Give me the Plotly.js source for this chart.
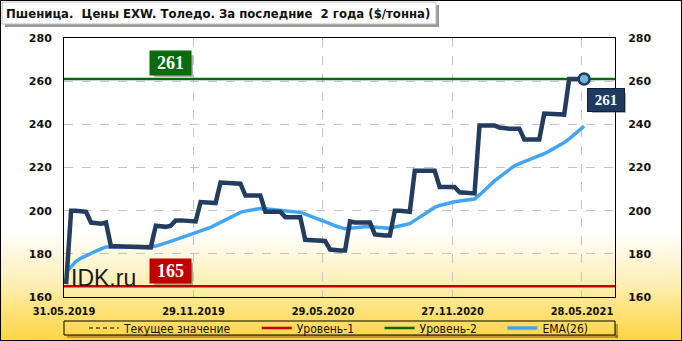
<!DOCTYPE html>
<html>
<head>
<meta charset="utf-8">
<script src="https://cdn.plot.ly/plotly-3.0.1.min.js"></script>
<style>
  html, body { margin: 0; padding: 0; background: #fff; }
  #wrap { position: relative; width: 682px; height: 341px;
    background: linear-gradient(to bottom, #ffffff 0%, #ffffff 68%, #fff7dc 75%, #ffeeb0 84%, #ffe27a 91%, #ffd443 100%); }
  #chart { width: 682px; height: 341px; }
  #frame { position: absolute; left: 0; top: 0; width: 680px; height: 339px; border: 1px solid #000; pointer-events: none; }
</style>
</head>
<body>
<div id="wrap"><div id="chart"></div><div id="frame"></div></div>
<script>
// ---- data ----
const dates = [
  '2019-06-03','2019-06-10','2019-06-17','2019-06-24','2019-07-01','2019-07-08','2019-07-15','2019-07-22','2019-07-29',
  '2019-08-05','2019-08-12','2019-08-19','2019-08-26','2019-09-02','2019-09-09','2019-09-16','2019-09-23','2019-09-30',
  '2019-10-07','2019-10-14','2019-10-21','2019-10-28','2019-11-04','2019-11-11','2019-11-18','2019-11-25',
  '2019-12-02','2019-12-09','2019-12-16','2019-12-23','2019-12-30',
  '2020-01-06','2020-01-13','2020-01-20','2020-01-27','2020-02-03','2020-02-10','2020-02-17','2020-02-24',
  '2020-03-02','2020-03-09','2020-03-16','2020-03-23','2020-03-30','2020-04-06','2020-04-13','2020-04-20','2020-04-27',
  '2020-05-04','2020-05-11','2020-05-18','2020-05-25','2020-06-01','2020-06-08','2020-06-15','2020-06-22','2020-06-29',
  '2020-07-06','2020-07-13','2020-07-20','2020-07-27','2020-08-03','2020-08-10','2020-08-17','2020-08-24','2020-08-31',
  '2020-09-07','2020-09-14','2020-09-21','2020-09-28','2020-10-05','2020-10-12','2020-10-19','2020-10-26',
  '2020-11-02','2020-11-09','2020-11-16','2020-11-23','2020-11-30','2020-12-07','2020-12-14','2020-12-21','2020-12-28',
  '2021-01-04','2021-01-11','2021-01-18','2021-01-25','2021-02-01','2021-02-08','2021-02-15','2021-02-22',
  '2021-03-01','2021-03-08','2021-03-15','2021-03-22','2021-03-29','2021-04-05','2021-04-12','2021-04-19','2021-04-26',
  '2021-05-03','2021-05-10','2021-05-17','2021-05-24','2021-05-31'
];
const price = [
  166, 200, 200, 200, 199.5, 194.5, 194, 194, 194.5,
  183.5, 183.5, 183.5, 183.5, 183.5, 183.5, 183.5, 183.5, 183,
  193, 192.5, 192.5, 193, 195.5, 195.5, 195.5, 195,
  195, 204, 204, 203.5, 203.5,
  213, 213, 213, 213, 212.5, 207, 207, 206.5,
  207, 199.5, 199.5, 199, 199.5, 197, 197, 197, 197,
  186.5, 186.5, 186.5, 186.5, 186, 182, 181.5, 181.5, 181.5,
  195, 194.5, 194.5, 194.5, 194.5, 189, 188.5, 188.5, 188.5,
  200, 200, 199.5, 199.5, 218.5, 218.5, 218.5, 218.5,
  218.5, 211, 211, 211, 211, 208.5, 208.5, 208.5, 208,
  239.5, 239.5, 239.5, 239.5, 238.5, 238, 238, 238,
  238, 233, 233, 233, 233, 245, 245, 244.5, 244.5,
  244.5, 261, 261, 261, 261
];
const ema = [
  171.5, 174, 176.5, 178, 179.2, 180.3, 181.3, 182.3, 183.2,
  183.2, 183.2, 183.1, 183.1, 183.0, 183.0, 183.0, 183.0, 183.0,
  183.6, 184.2, 185, 185.8, 186.6, 187.4, 188.1, 188.9,
  189.6, 190.5, 191.4, 192.3, 193.4,
  194.6, 195.8, 197, 198.2, 199.2, 199.8, 200.3, 200.8,
  201, 200.9, 200.7, 200.4, 200.2, 200, 199.8, 199.5, 199.2,
  198.4, 197.6, 196.8, 196, 195, 194, 193, 192.2, 191.6,
  191.8, 192.1, 192.4, 192.6, 192.5, 192.3, 192, 191.7, 191.8,
  192.4, 193, 193.5, 194, 195.5, 197, 198.5, 200.3,
  201.5, 202.4, 203.1, 203.6, 204.1, 204.5, 204.8, 205.1, 205.4,
  207.3, 209.6, 211.9, 213.8, 215.5, 217.3, 219.3, 220.8,
  221.8, 222.7, 223.6, 224.4, 225.2, 226.4, 227.6, 228.8, 230.2,
  231.6, 233.3, 235.2, 237.2, 239.2
];
const level1 = 165;
const level2 = 261;
const currentValue = 261;
const xTickVals = ['2019-05-31','2019-11-29','2020-05-29','2020-11-27','2021-05-28'];
const xTickText = ['31.05.2019','29.11.2019','29.05.2020','27.11.2020','28.05.2021'];
const yTickVals = [160, 180, 200, 220, 240, 260, 280];
const xRange = ['2019-05-31', '2021-07-13 10:00'];
const yRange = [160, 280];
const titleText = 'Пшеница.\u00a0 Цены EXW. Толедо. За последние\u00a0 2 года ($/тонна)';

// ---- geometry helpers (pixel -> paper) ----
const M = {l: 64, r: 67, t: 38, b: 44, autoexpand: false};
const PW = 682 - M.l - M.r, PH = 341 - M.t - M.b;
const P = x => (x - M.l) / PW;
const Q = y => (341 - M.b - y) / PH;

const last = dates.length - 1;
const NB = '\u00a0';
const pad = NB.repeat(6);

const traces = [
  {x: xRange, y: [currentValue, currentValue], type: 'scatter', mode: 'lines', name: 'Текущее значение' + pad,
   line: {color: '#000', width: 1, dash: '4px,3px'}, legendrank: 1, hoverinfo: 'skip'},
  {x: xRange, y: [level2, level2], type: 'scatter', mode: 'lines', name: 'Уровень-2' + pad,
   line: {color: '#0a6a0a', width: 2.5}, legendrank: 3, hoverinfo: 'skip'},
  {x: dates, y: ema, type: 'scatter', mode: 'lines', name: 'EMA(26)',
   line: {color: '#42a5f5', width: 3.5}, legendrank: 4},
  {x: dates, y: price, type: 'scatter', mode: 'lines', name: 'Цена', showlegend: false,
   line: {color: '#223d5f', width: 4.5, shape: 'linear'}},
  {x: [dates[last]], y: [price[last]], type: 'scatter', mode: 'markers', showlegend: false,
   marker: {symbol: 'circle', size: 11, color: '#6db6d9', line: {color: '#1f3a5f', width: 2.5}}},
  {x: xRange, y: [level1, level1], type: 'scatter', mode: 'lines', name: 'Уровень-1' + pad,
   line: {color: '#c00000', width: 2.5}, legendrank: 2, yaxis: 'y2', hoverinfo: 'skip'}
];

const gridCol = '#c4c4c4';
const tickFontY = {family: 'DejaVu Sans', size: 11, color: '#111', weight: 'bold'};
const shadow = 'rgba(0,0,0,0.3)';

const layout = {
  width: 682, height: 341,
  margin: M,
  paper_bgcolor: 'rgba(0,0,0,0)',
  plot_bgcolor: 'rgba(0,0,0,0)',
  showlegend: true,
  title: {text: titleText, x: 6 / 682, xref: 'container', xanchor: 'left', y: 1 - 13 / 341, yref: 'container', yanchor: 'middle',
          font: {family: 'DejaVu Sans Condensed, DejaVu Sans', size: 13, color: '#111', weight: 'bold'}},
  xaxis: {type: 'date', range: xRange, tickvals: xTickVals, ticktext: xTickText,
          showgrid: true, gridcolor: gridCol, griddash: 'dash', gridwidth: 1,
          ticks: 'outside', ticklen: 4, tickcolor: 'rgba(0,0,0,0)',
          showline: true, linecolor: '#000', linewidth: 1, mirror: true, zeroline: false,
          tickfont: {family: 'DejaVu Sans Condensed, DejaVu Sans', size: 11, color: '#111', weight: 'bold'},
          fixedrange: true},
  yaxis: {range: yRange, tickvals: yTickVals, showgrid: true, gridcolor: gridCol, griddash: 'dash', gridwidth: 1,
          ticks: 'outside', ticklen: 9, tickcolor: 'rgba(0,0,0,0)',
          showline: true, linecolor: '#000', linewidth: 1, mirror: true, zeroline: false,
          tickfont: tickFontY, fixedrange: true},
  yaxis2: {range: yRange, tickvals: yTickVals, overlaying: 'y', side: 'right', showgrid: false,
           ticks: 'outside', ticklen: 10, tickcolor: 'rgba(0,0,0,0)', showline: false, zeroline: false,
           tickfont: tickFontY, fixedrange: true},
  legend: {orientation: 'h', x: P(84), xanchor: 'left', y: Q(328), yanchor: 'middle',
           bgcolor: 'rgba(0,0,0,0)', borderwidth: 0, itemwidth: 30,
           font: {family: 'DejaVu Sans Condensed, DejaVu Sans', size: 12, color: '#111'}},
  shapes: [
    // title box shadow + box
    {type: 'rect', xref: 'paper', yref: 'paper', x0: P(5), x1: P(439), y0: Q(27), y1: Q(5), fillcolor: '#9a9a9a', line: {width: 0}, layer: 'below'},
    {type: 'rect', xref: 'paper', yref: 'paper', x0: P(2), x1: P(436), y0: Q(24), y1: Q(2), fillcolor: '#ffffff', line: {color: '#bdbdbd', width: 1}, layer: 'below'},
    // legend box shadow + box
    {type: 'rect', xref: 'paper', yref: 'paper', x0: P(67), x1: P(618), y0: Q(338), y1: Q(335), fillcolor: 'rgba(110,80,0,0.45)', line: {width: 0}, layer: 'below'},
    {type: 'rect', xref: 'paper', yref: 'paper', x0: P(615), x1: P(618), y0: Q(338), y1: Q(324), fillcolor: 'rgba(110,80,0,0.45)', line: {width: 0}, layer: 'below'},
    {type: 'rect', xref: 'paper', yref: 'paper', x0: P(64), x1: P(615), y0: Q(335), y1: Q(321), fillcolor: 'rgba(0,0,0,0)', line: {color: '#000', width: 1}, layer: 'below'},
    // label shadows
    {type: 'rect', xref: 'paper', yref: 'paper', x0: P(154), x1: P(193), y0: Q(77), y1: Q(55), fillcolor: shadow, line: {width: 0}, layer: 'above'},
    {type: 'rect', xref: 'paper', yref: 'paper', x0: P(154), x1: P(193), y0: Q(285), y1: Q(263), fillcolor: shadow, line: {width: 0}, layer: 'above'},
    {type: 'rect', xref: 'paper', yref: 'paper', x0: P(592), x1: P(626), y0: Q(113), y1: Q(93), fillcolor: shadow, line: {width: 0}, layer: 'above'}
  ],
  annotations: [
    // watermark
    {xref: 'paper', yref: 'paper', x: P(69), y: Q(278), xanchor: 'left', yanchor: 'middle', showarrow: false,
     text: 'IDK.ru', font: {family: 'Liberation Sans, Arial', size: 23, color: '#1a1a1a'}},
    // labels
    {xref: 'paper', yref: 'paper', x: P(170.5), y: Q(63), xanchor: 'center', yanchor: 'middle', showarrow: false,
     text: String(level2), width: 39, height: 22,
     bgcolor: '#0b6b0b', font: {family: 'Liberation Serif', size: 18, color: '#fff', weight: 'bold'}},
    {xref: 'paper', yref: 'paper', x: P(170.5), y: Q(271), xanchor: 'center', yanchor: 'middle', showarrow: false,
     text: String(level1), width: 39, height: 22,
     bgcolor: '#c00000', font: {family: 'Liberation Serif', size: 18, color: '#fff', weight: 'bold'}},
    {xref: 'paper', yref: 'paper', x: P(606), y: Q(100), xanchor: 'center', yanchor: 'middle', showarrow: false,
     text: String(currentValue), width: 34, height: 20,
     bgcolor: '#1f3a5f', bordercolor: '#0e1f35', borderwidth: 1, font: {family: 'Liberation Serif', size: 15, color: '#fff', weight: 'bold'}}
  ]
};

Plotly.newPlot('chart', traces, layout, {staticPlot: true, displayModeBar: false});
</script>
</body>
</html>
